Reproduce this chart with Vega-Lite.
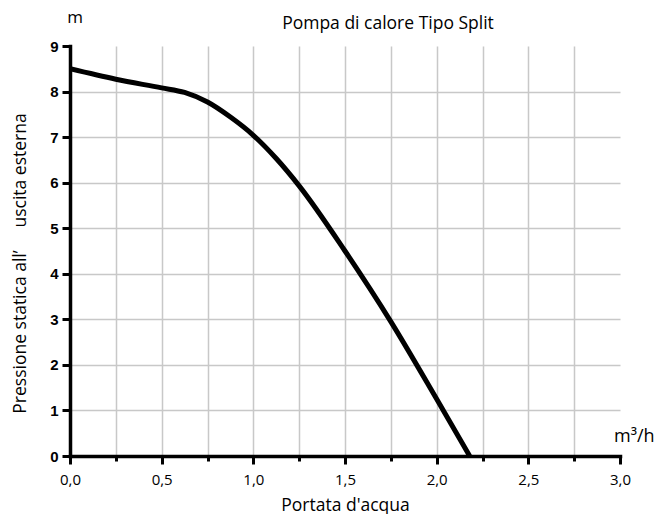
{
  "$schema": "https://vega.github.io/schema/vega-lite/v6.json",
  "autosize": "none",
  "width": 550,
  "height": 410,
  "padding": {"left": 70, "top": 46, "right": 46, "bottom": 58},
  "background": "white",
  "title": {
    "text": "Pompa di calore Tipo Split",
    "anchor": "middle",
    "frame": "group",
    "dx": 43,
    "offset": -37,
    "baseline": "alphabetic",
    "font": "Open Sans",
    "fontSize": 17.5,
    "fontWeight": "normal",
    "color": "#000"
  },
  "config": {
    "view": {"stroke": null},
    "axis": {"domainColor": "#000", "tickColor": "#000", "labelColor": "#000", "titleColor": "#000", "gridColor": "#c8c8c8", "gridWidth": 1.5}
  },
  "datasets": {
    "curve": [
      {"q": 0.0, "h": 8.5},
      {"q": 0.25, "h": 8.27},
      {"q": 0.5, "h": 8.08},
      {"q": 0.625, "h": 7.98},
      {"q": 0.75, "h": 7.77},
      {"q": 0.875, "h": 7.44},
      {"q": 1.0, "h": 7.04},
      {"q": 1.125, "h": 6.53},
      {"q": 1.25, "h": 5.93},
      {"q": 1.5, "h": 4.5},
      {"q": 1.75, "h": 2.95},
      {"q": 2.0, "h": 1.25},
      {"q": 2.18, "h": 0.0}
    ],
    "notes": [
      {"q": 0, "h": 9, "label": "m", "pos": "top"},
      {"q": 3, "h": 0, "label": "m³/h", "pos": "right"}
    ]
  },
  "layer": [
    {
      "data": {"name": "curve"},
      "mark": {"type": "line", "color": "#000", "strokeWidth": 5, "interpolate": "monotone", "clip": true},
      "encoding": {
        "x": {
          "field": "q", "type": "quantitative",
          "scale": {"domain": [0, 3], "nice": false, "zero": false},
          "axis": {
            "values": [0, 0.25, 0.5, 0.75, 1, 1.25, 1.5, 1.75, 2, 2.25, 2.5, 2.75, 3],
            "labelExpr": "datum.value % 0.5 == 0 ? replace(format(datum.value, '.1f'), '.', ',') : ''",
            "title": "Portata d'acqua",
            "titleFont": "Open Sans", "titleFontSize": 17.5, "titleFontWeight": "normal", "titlePadding": 9,
            "labelFont": "Open Sans", "labelFontSize": 15, "labelPadding": 8,
            "domainWidth": 3.5, "domainCap": "square",
            "tickWidth": 3,
            "tickSize": {"condition": {"test": "datum.value % 0.5 == 0", "value": 8}, "value": 5},
            "grid": true,
            "gridOpacity": {"condition": {"test": "datum.value == 0 || datum.value == 3", "value": 0}, "value": 1},
            "labelFlush": false
          }
        },
        "y": {
          "field": "h", "type": "quantitative",
          "scale": {"domain": [0, 9], "nice": false},
          "axis": {
            "values": [0, 0.5, 1, 1.5, 2, 2.5, 3, 3.5, 4, 4.5, 5, 5.5, 6, 6.5, 7, 7.5, 8, 8.5, 9],
            "labelExpr": "datum.value % 1 == 0 ? format(datum.value, 'd') : ''",
            "title": "Pressione statica all’\u00a0\u00a0\u00a0\u00a0\u00a0uscita esterna",
            "titleFont": "Open Sans", "titleFontSize": 17.5, "titleFontWeight": "normal",
            "titleX": -50, "titleY": 217, "titleAlign": "center", "titleBaseline": "middle",
            "labelFont": "Liberation Sans", "labelFontSize": 15, "labelFontWeight": "bold", "labelPadding": 4,
            "domainWidth": 3.5, "domainCap": "square",
            "tickWidth": 3,
            "tickSize": {"condition": {"test": "datum.value % 1 == 0", "value": 8}, "value": 5},
            "grid": true,
            "gridOpacity": {"condition": {"test": "datum.value == 0 || datum.value == 9", "value": 0}, "value": 1},
            "labelFlush": false
          }
        }
      }
    },
    {
      "data": {"name": "notes"},
      "transform": [{"filter": "datum.pos == 'top'"}],
      "mark": {"type": "text", "font": "Open Sans", "fontSize": 17, "align": "center", "baseline": "middle", "dx": 5, "dy": -28, "color": "#000"},
      "encoding": {
        "x": {"field": "q", "type": "quantitative"},
        "y": {"field": "h", "type": "quantitative"},
        "text": {"field": "label"}
      }
    },
    {
      "data": {"name": "notes"},
      "transform": [{"filter": "datum.pos == 'right'"}],
      "mark": {"type": "text", "font": "Open Sans", "fontSize": 18, "align": "left", "baseline": "middle", "dx": -6, "dy": -19, "color": "#000"},
      "encoding": {
        "x": {"field": "q", "type": "quantitative"},
        "y": {"field": "h", "type": "quantitative"},
        "text": {"field": "label"}
      }
    }
  ]
}
